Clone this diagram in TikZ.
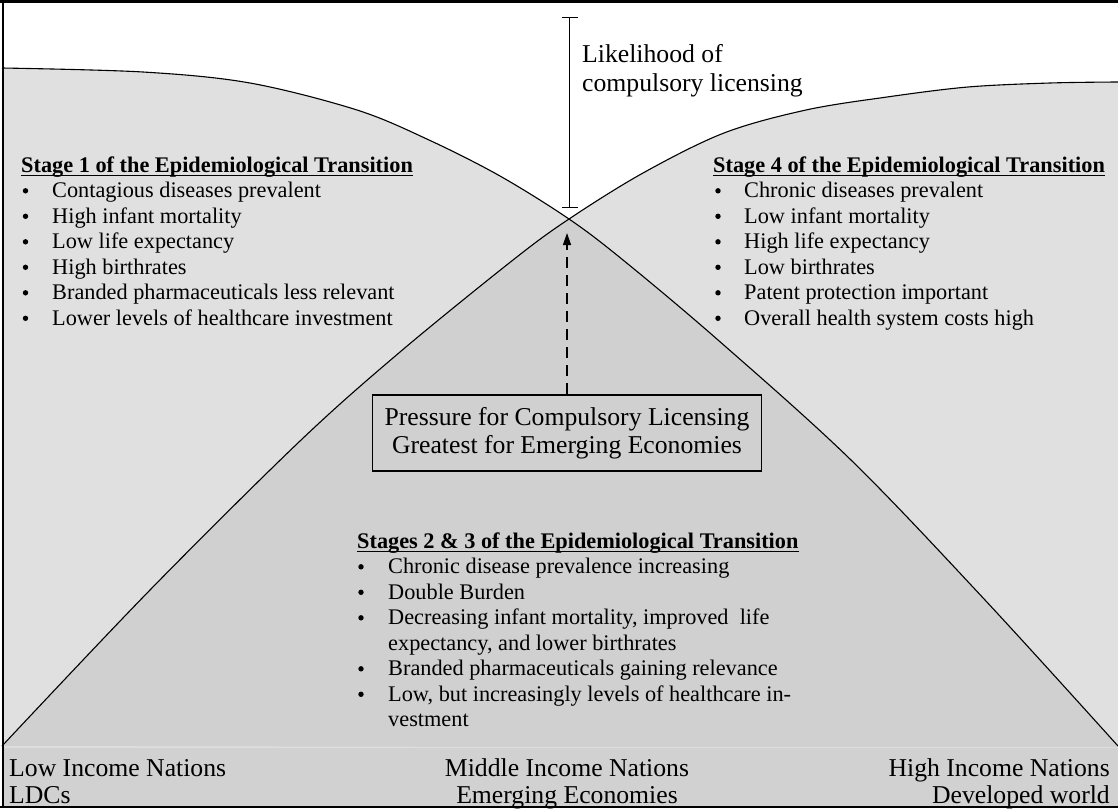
\documentclass[tikz,border=0pt]{standalone}
\usepackage{fontspec}
\setmainfont{Liberation Serif}
\usetikzlibrary{arrows.meta}
\definecolor{lightfill}{gray}{0.878}
\definecolor{darkfill}{gray}{0.815}
\definecolor{bandfill}{gray}{0.82}
\definecolor{bandline}{gray}{0.87}
\begin{document}
\begin{tikzpicture}[x=1pt,y=-1pt,
  body/.style={font=\fontsize{22.3}{25.6}\selectfont, inner sep=0pt, anchor=base west},
  headtxt/.style={body, font=\fontsize{22.3}{25.6}\selectfont\bfseries},
  bigtxt/.style={font=\fontsize{25.7}{28}\selectfont, inner sep=0pt},
  bulletdot/.style={circle, fill=black, inner sep=0pt, minimum size=5.4pt},
  curveline/.style={line width=1.1pt, black},
  uline/.style={line width=1.6pt}
]
\useasboundingbox (0,0) rectangle (1118,811);
\fill[white] (0,0) rectangle (1118,811);

\def\leftcurve{plot[smooth, tension=0.55] coordinates {(2,68) (143,72) (250,83) (357,110) (429,140) (500,176) (569,219) (623,260) (718,340) (851,460) (985,600) (1118,746)}}
\def\rightcurve{plot[smooth, tension=0.55] coordinates {(2,746) (150,590) (300,441) (400,352) (513,260) (569,219) (643,173) (724,133) (806,110) (887,97) (968,87) (1050,83) (1118,82)}}

% regions
\fill[lightfill] \leftcurve -- (1118,748) -- (2,748) -- cycle;
\fill[lightfill] \rightcurve -- (1118,748) -- cycle;
\begin{scope}
  \clip \leftcurve -- (1118,748) -- (2,748) -- cycle;
  \fill[darkfill] \rightcurve -- (1118,748) -- cycle;
\end{scope}
\draw[curveline] \leftcurve;
\draw[curveline] \rightcurve;

% bottom band
\fill[bandfill] (2,747) rectangle (1118,807);
\draw[bandline, line width=1pt] (2,747) -- (1118,747);

% frame
\draw[line width=2.5pt] (0,1.5) -- (1118,1.5);
\draw[line width=2pt] (2.5,0) -- (2.5,808);
\draw[line width=1.8pt] (0,807) -- (1118,807);

% likelihood bar
\coordinate (bartop) at (569.5,17);
\coordinate (barbot) at (569.5,208);
\draw[line width=1.2pt, {Bar[width=16pt]}-{Bar[width=16pt]}] (bartop) -- (barbot);
\node[bigtxt, anchor=base west] (lk1) at (582,62) {Likelihood of};
\node[bigtxt, anchor=base west] (lk2) at (582,91) {compulsory licensing};

% box and arrow
\node[bigtxt, draw, line width=1.8pt, minimum width=389pt, minimum height=76pt, align=center] (box) at (567,433)
  {Pressure for Compulsory Licensing\\Greatest for Emerging Economies};
\coordinate (tip) at (567,233);
\draw[line width=1.3pt, dash pattern=on 11pt off 7pt, -{Triangle[length=12pt,width=8pt]}] (box.north) -- (tip);

% Stage 1
\node[headtxt] (s1h) at (21,172) {Stage 1 of the Epidemiological Transition};
\draw[uline] ([yshift=-3.5pt]s1h.base west) -- ([yshift=-3.5pt]s1h.base east);
\node[bulletdot] (s1b1) at (25.5,190.8) {};
\node[body] (s1t1) at (52,197.5) {Contagious diseases prevalent};
\node[bulletdot] (s1b2) at (25.5,216.3) {};
\node[body] (s1t2) at (52,223) {High infant mortality};
\node[bulletdot] (s1b3) at (25.5,241.8) {};
\node[body] (s1t3) at (52,248.5) {Low life expectancy};
\node[bulletdot] (s1b4) at (25.5,267.3) {};
\node[body] (s1t4) at (52,274) {High birthrates};
\node[bulletdot] (s1b5) at (25.5,292.8) {};
\node[body] (s1t5) at (52,299.5) {Branded pharmaceuticals less relevant};
\node[bulletdot] (s1b6) at (25.5,318.3) {};
\node[body] (s1t6) at (52,325) {Lower levels of healthcare investment};

% Stage 4
\node[headtxt] (s4h) at (713,172) {Stage 4 of the Epidemiological Transition};
\draw[uline] ([yshift=-3.5pt]s4h.base west) -- ([yshift=-3.5pt]s4h.base east);
\node[bulletdot] (s4b1) at (718,190.8) {};
\node[body] (s4t1) at (744,197.5) {Chronic diseases prevalent};
\node[bulletdot] (s4b2) at (718,216.3) {};
\node[body] (s4t2) at (744,223) {Low infant mortality};
\node[bulletdot] (s4b3) at (718,241.8) {};
\node[body] (s4t3) at (744,248.5) {High life expectancy};
\node[bulletdot] (s4b4) at (718,267.3) {};
\node[body] (s4t4) at (744,274) {Low birthrates};
\node[bulletdot] (s4b5) at (718,292.8) {};
\node[body] (s4t5) at (744,299.5) {Patent protection important};
\node[bulletdot] (s4b6) at (718,318.3) {};
\node[body] (s4t6) at (744,325) {Overall health system costs high};

% Stages 2 & 3
\node[headtxt] (s2h) at (357,548) {Stages 2 \& 3 of the Epidemiological Transition};
\draw[uline] ([yshift=-3.5pt]s2h.base west) -- ([yshift=-3.5pt]s2h.base east);
\node[bulletdot] (s2b1) at (361,566.8) {};
\node[body] (s2t1) at (388,573.5) {Chronic disease prevalence increasing};
\node[bulletdot] (s2b2) at (361,592.3) {};
\node[body] (s2t2) at (388,599) {Double Burden};
\node[bulletdot] (s2b3) at (361,617.8) {};
\node[body] (s2t3) at (388,624.5) {Decreasing infant mortality, improved\ \ life};
\node[body] (s2t3b) at (388,650) {expectancy, and lower birthrates};
\node[bulletdot] (s2b4) at (361,668.8) {};
\node[body] (s2t4) at (388,675.5) {Branded pharmaceuticals gaining relevance};
\node[bulletdot] (s2b5) at (361,694.3) {};
\node[body] (s2t5) at (388,701) {Low, but increasingly levels of healthcare in-};
\node[body] (s2t5b) at (388,726.5) {vestment};

% bottom labels
\node[bigtxt, anchor=base west] (lo1) at (9,776) {Low Income Nations};
\node[bigtxt, anchor=base west] (lo2) at (9,803) {LDCs};
\node[bigtxt, anchor=base] (mi1) at (567,776) {Middle Income Nations};
\node[bigtxt, anchor=base] (mi2) at (567,803) {Emerging Economies};
\node[bigtxt, anchor=base east] (hi1) at (1110,776) {High Income Nations};
\node[bigtxt, anchor=base east] (hi2) at (1110,803) {Developed world};
\end{tikzpicture}
\end{document}
